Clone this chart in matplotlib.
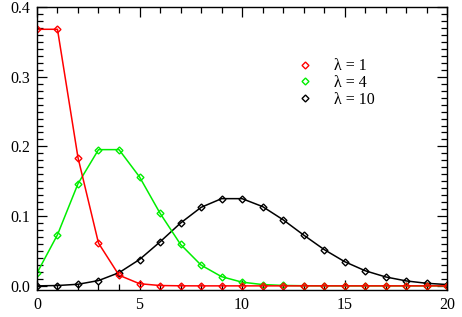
import matplotlib
matplotlib.use("Agg")
import matplotlib.pyplot as plt
from matplotlib.ticker import MultipleLocator

k = list(range(21))
# values (Poisson probabilities)
p1 = [0.368, 0.368, 0.184, 0.0613, 0.0153, 0.0031, 0.0005, 0.0001, 0.0, 0.0,
      0.0, 0.0, 0.0, 0.0, 0.0, 0.0, 0.0, 0.0, 0.0, 0.0, 0.0]
p4 = [0.0183, 0.0733, 0.1465, 0.1954, 0.1954, 0.1563, 0.1042, 0.0595, 0.0298, 0.0132,
      0.0053, 0.0019, 0.0006, 0.0002, 0.0001, 0.0, 0.0, 0.0, 0.0, 0.0, 0.0]
p10 = [0.0000, 0.0005, 0.0023, 0.0076, 0.0189, 0.0378, 0.0631, 0.0901, 0.1126, 0.1251,
       0.1251, 0.1137, 0.0948, 0.0729, 0.0521, 0.0347, 0.0217, 0.0128, 0.0071, 0.0037, 0.0019]
labels = ["λ = 1", "λ = 4", "λ = 10"]

plt.rcParams['font.family'] = ['Liberation Serif', 'DejaVu Serif']
plt.rcParams['font.size'] = 11.5

fig = plt.figure(figsize=(4.62, 3.17), dpi=100)
ax = fig.add_axes([0.080, 0.085, 0.888, 0.893])

ax.plot(k, p10, color='black', lw=1.1, marker='D', ms=3.5, mfc='none', mew=1, label=labels[2])
ax.plot(k, p4, color='#00ee00', lw=1.1, marker='D', ms=3.5, mfc='none', mew=1, label=labels[1])
ax.plot(k, p1, color='#ff0000', lw=1.1, marker='D', ms=3.5, mfc='none', mew=1, label=labels[0])

ax.set_xlim(0, 20)
ax.set_ylim(-0.006, 0.4)
ax.xaxis.set_major_locator(MultipleLocator(5))
ax.xaxis.set_minor_locator(MultipleLocator(1))
ax.yaxis.set_major_locator(MultipleLocator(0.1))
ax.yaxis.set_minor_locator(MultipleLocator(0.01))
ax.yaxis.set_major_formatter(plt.FuncFormatter(lambda v, p: f"{v:.1f}"))
ax.tick_params(which='both', direction='in', top=True, right=True, width=0.9)
ax.tick_params(which='major', length=7, pad=5)
ax.tick_params(which='minor', length=4)
for s in ax.spines.values():
    s.set_linewidth(1)

h, l = ax.get_legend_handles_labels()
leg = ax.legend(h[::-1], l[::-1], loc='upper left', bbox_to_anchor=(0.607, 0.87),
                frameon=False, handlelength=0.6, handletextpad=1.5, labelspacing=0.05,
                fontsize=11.5)
for line in leg.get_lines():
    line.set_linestyle('none')

fig.savefig("out.png", dpi=100)
